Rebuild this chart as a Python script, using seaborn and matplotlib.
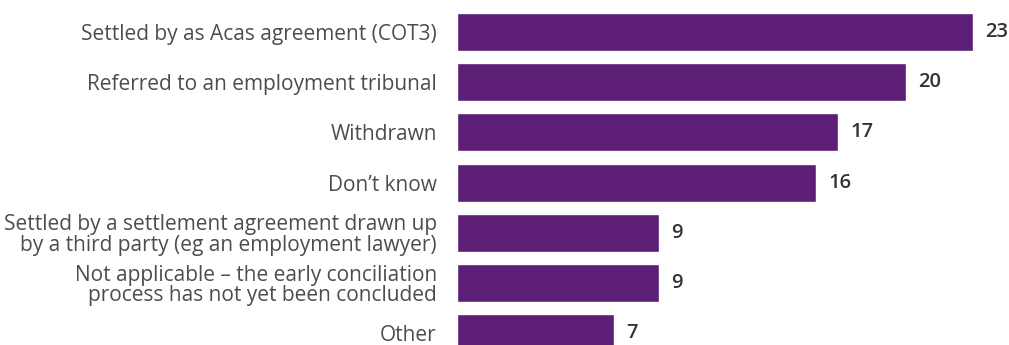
import matplotlib
matplotlib.use("Agg")
import matplotlib.pyplot as plt
import seaborn as sns
import pandas as pd

categories = [
    "Settled by as Acas agreement (COT3)",
    "Referred to an employment tribunal",
    "Withdrawn",
    "Don\u2019t know",
    "Settled by a settlement agreement drawn up\nby a third party (eg an employment lawyer)",
    "Not applicable \u2013 the early conciliation\nprocess has not yet been concluded",
    "Other",
]
values = [23, 20, 17, 16, 9, 9, 7]

BAR_COLOR = "#5c1f75"
LABEL_COLOR = "#4d4d4d"
VALUE_COLOR = "#333333"

sns.set_theme(style="white")
plt.rcParams["font.family"] = ["Open Sans", "DejaVu Sans"]

df = pd.DataFrame({"category": categories, "value": values})

W, H = 1009, 345
fig = plt.figure(figsize=(W / 100, H / 100), dpi=100)
ax = fig.add_axes([457 / W, 0, 1 - 457 / W, 1])

sns.barplot(data=df, x="value", y="category", orient="h", color=BAR_COLOR,
            width=0.755, saturation=1, ax=ax)

ax.set_xlim(0, 24.6)
ax.set_ylim(6.23, -0.63)
ax.set_xlabel("")
ax.set_ylabel("")
ax.set_xticks([])
sns.despine(ax=ax, left=True, bottom=True)
ax.tick_params(axis="y", length=0, pad=14.5)
for lbl in ax.get_yticklabels():
    lbl.set_fontsize(15)
    lbl.set_color(LABEL_COLOR)
    lbl.set_horizontalalignment("right")
    lbl.set_linespacing(0.95)

for container in ax.containers:
    ax.bar_label(container, labels=[str(v) for v in values], padding=9,
                 fontsize=14.5, fontweight="semibold", color=VALUE_COLOR)

fig.savefig("out.png", dpi=100)
